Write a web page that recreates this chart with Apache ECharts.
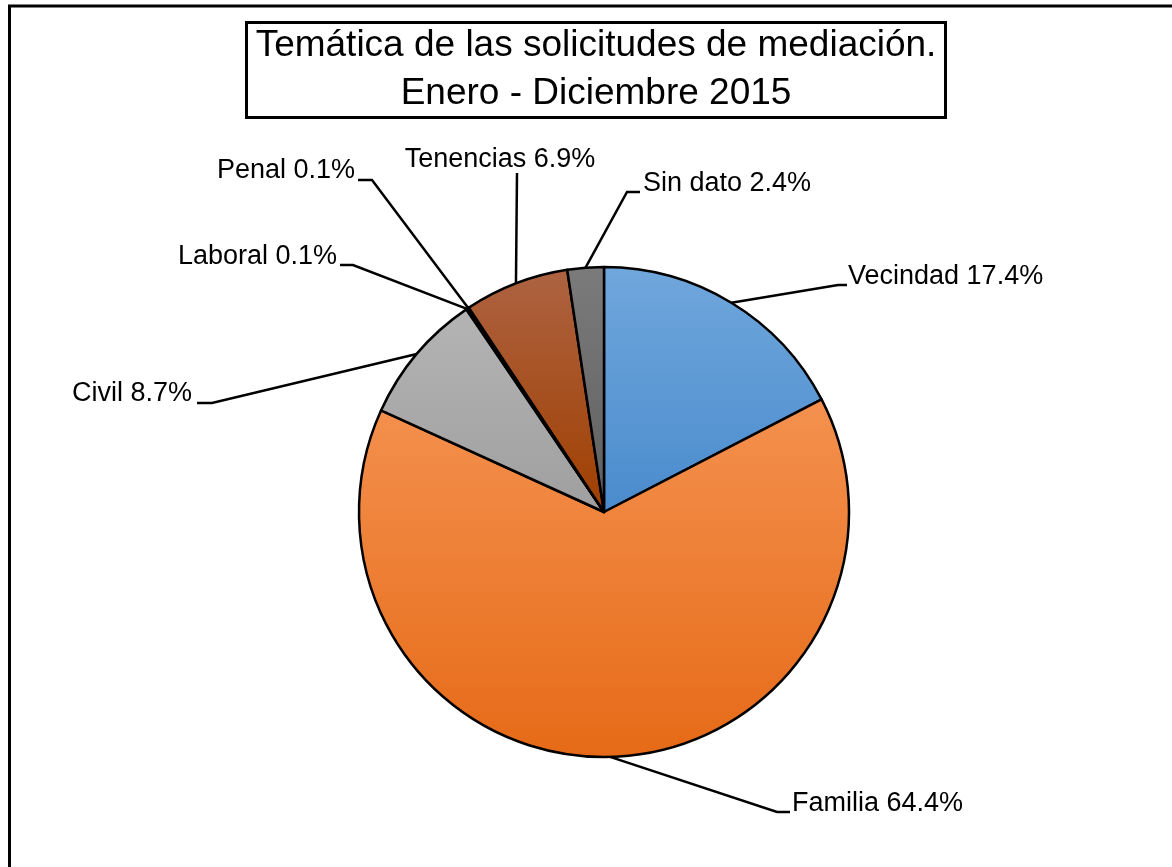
<!DOCTYPE html>
<html>
<head>
<meta charset="utf-8">
<script src="https://cdn.jsdelivr.net/npm/echarts@6/dist/echarts.min.js"></script>
<style>
  html, body { margin: 0; padding: 0; background: #fff; }
  #main { width: 1172px; height: 867px; }
</style>
</head>
<body>
<div id="main"></div>
<script>
// categories and values (percent of requests)
const categories = ["Vecindad", "Familia", "Civil", "Laboral", "Penal", "Tenencias", "Sin dato"];
const values = [17.4, 64.4, 8.7, 0.1, 0.1, 6.9, 2.4];

// slice gradients: top colour, bottom colour
const topColors = ["#70a7dc", "#f4914f", "#b4b4b4", "#ffc000", "#4472c4", "#ad6342", "#7b7b7b"];
const bottomColors = ["#4a8bcd", "#e66a17", "#9f9f9f", "#e0a800", "#2f5597", "#a03f00", "#5f5f5f"];

// label anchors: [x, y, align, bendX, bendY, endX, endY]
const labelPlaces = [
  [848, 277, "left", 838, 285, 847, 285],
  [792, 804, "left", 777, 812, 790, 812],
  [192, 394, "right", 212, 403, 197, 403],
  [337, 257, "right", 353, 265, 340, 265],
  [355, 171, "right", 372, 180, 358, 180],
  [500, 160, "center", 517, 173, 517, 173],
  [643, 184, "left", 627, 192, 640, 192]
];

const myChart = echarts.init(document.getElementById("main"));

const pieData = categories.map(function (name, i) {
  return {
    name: name,
    value: values[i],
    itemStyle: {
      color: {
        type: "linear", x: 0, y: 0, x2: 0, y2: 1,
        colorStops: [
          { offset: 0, color: topColors[i] },
          { offset: 1, color: bottomColors[i] }
        ]
      }
    }
  };
});

myChart.setOption({
  animation: false,
  title: {
    text: "Temática de las solicitudes de mediación.\nEnero - Diciembre 2015",
    left: 587,
    top: 22,
    padding: [0, 9],
    borderColor: "#000",
    borderWidth: 3,
    textAlign: "center",
    textStyle: {
      fontFamily: "Liberation Sans, Arial, sans-serif",
      fontSize: 37,
      fontWeight: "normal",
      color: "#000",
      lineHeight: 48
    }
  },
  graphic: [
    {
      type: "rect",
      silent: true,
      z: -10,
      shape: { x: 9.5, y: 6, width: 1400, height: 1000 },
      style: { fill: "none", stroke: "#000", lineWidth: 3 }
    }
  ],
  series: [
    {
      type: "pie",
      center: [604, 512],
      radius: 245,
      startAngle: 90,
      clockwise: true,
      percentPrecision: 1,
      avoidLabelOverlap: false,
      emphasis: { scale: false },
      itemStyle: { borderColor: "#000", borderWidth: 2.5 },
      label: {
        show: true,
        formatter: "{b} {d}%",
        color: "#000",
        fontFamily: "Liberation Sans, Arial, sans-serif",
        fontSize: 27
      },
      labelLine: {
        show: true,
        length: 20,
        length2: 10,
        lineStyle: { color: "#000", width: 2.5 }
      },
      labelLayout: function (params) {
        const p = labelPlaces[params.dataIndex];
        const start = params.labelLinePoints ? params.labelLinePoints[0] : [p[3], p[4]];
        return {
          x: p[0],
          y: p[1],
          align: p[2],
          verticalAlign: "middle",
          labelLinePoints: [start, [p[3], p[4]], [p[5], p[6]]]
        };
      },
      data: pieData
    }
  ]
});
</script>
</body>
</html>
